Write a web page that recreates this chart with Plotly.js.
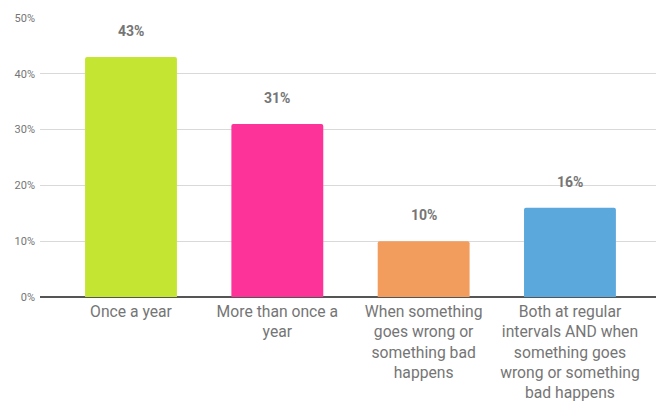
<!DOCTYPE html>
<html><head><meta charset="utf-8">
<script src="https://cdn.plot.ly/plotly-3.0.1.min.js"></script>
<style>html,body{margin:0;padding:0;background:#fff}#chart{width:656px;height:405px}</style>
</head><body><div id="chart"></div>
<script>
const categories = ["Once a year", "More than once a<br>year", "When something<br>goes wrong or<br>something bad<br>happens", "Both at regular<br>intervals AND when<br>something goes<br>wrong or something<br>bad happens"];
const values = [0.43, 0.31, 0.10, 0.16];
const labels = ["43%", "31%", "10%", "16%"];
const colors = ["#c4e632", "#fe3399", "#f29c5e", "#5ba8dd"];

const trace = {
  type: "bar",
  x: categories,
  y: values,
  marker: {color: colors, cornerradius: 2},
  width: 0.628,
  hoverinfo: "none"
};
const annotations = categories.map((c, i) => ({
  x: c, y: values[i], xref: "x", yref: "y",
  text: "<b>" + labels[i] + "</b>", showarrow: false,
  yanchor: "bottom", yshift: 16,
  font: {family: "Roboto, sans-serif", size: 14, color: "#757575"}
}));
const layout = {
  width: 656, height: 405,
  margin: {l: 40, r: 0, t: 18, b: 108},
  paper_bgcolor: "#fff", plot_bgcolor: "#fff",
  showlegend: false,
  xaxis: {
    type: "category", range: [-0.622, 3.588],
    showgrid: false, zeroline: false, showline: false, ticks: "",
    tickfont: {family: "Roboto, sans-serif", size: 15.7, color: "#757575"},
    ticklabelstandoff: 3
  },
  yaxis: {
    range: [0, 0.5], dtick: 0.1, tickformat: ".0%",
    showgrid: true, gridcolor: "#d9d9d9", gridwidth: 1,
    zeroline: true, zerolinecolor: "#555", zerolinewidth: 1.3,
    showline: false, ticks: "",
    tickfont: {family: "Roboto, sans-serif", size: 11, color: "#757575"},
    ticklabelstandoff: 4
  },
  annotations: annotations
};
Plotly.newPlot("chart", [trace], layout, {displayModeBar: false, staticPlot: true});
</script></body></html>
